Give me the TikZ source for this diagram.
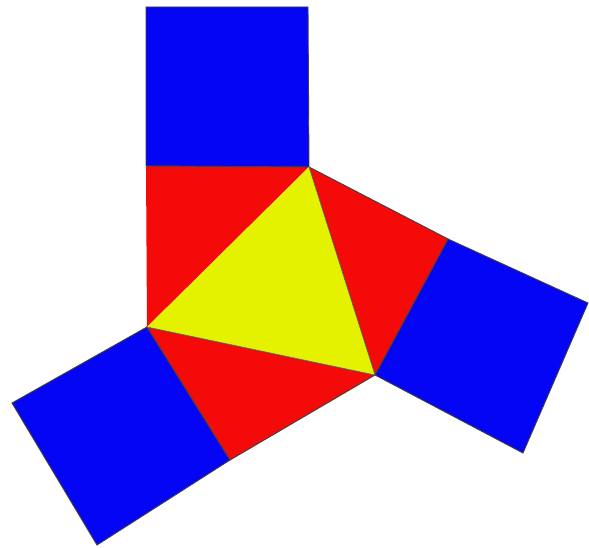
\documentclass[tikz,border=0pt]{standalone}
\definecolor{sqblue}{RGB}{5,5,245}
\definecolor{trired}{RGB}{245,10,10}
\definecolor{triyel}{RGB}{228,242,0}
\begin{document}
\begin{tikzpicture}[x=1pt,y=-1pt,
  piece/.style={draw=black!75,line width=0.9pt,line join=miter}]
\useasboundingbox (0,0) rectangle (589,548);
\fill[white] (0,0) rectangle (589,548);
\coordinate (A) at (309,167);
\coordinate (B) at (147,327);
\coordinate (C) at (375,375);
\coordinate (T1) at (146,7);
\coordinate (T2) at (308,7);
\coordinate (T3) at (146,166);
\coordinate (R1) at (448,239);
\coordinate (R2) at (588,303);
\coordinate (R3) at (523,453);
\coordinate (L1) at (230,460);
\coordinate (L2) at (97,545);
\coordinate (L3) at (12,403);
% squares
\filldraw[piece,fill=sqblue] (T3) -- (T1) -- (T2) -- (A) -- cycle;
\filldraw[piece,fill=sqblue] (C) -- (R1) -- (R2) -- (R3) -- cycle;
\filldraw[piece,fill=sqblue] (B) -- (L1) -- (L2) -- (L3) -- cycle;
% red triangles
\fill[trired] (A) -- (T3) -- (B) -- cycle;
\draw[piece] (T3) -- (A);
\filldraw[piece,fill=trired] (A) -- (R1) -- (C) -- cycle;
\filldraw[piece,fill=trired] (B) -- (C) -- (L1) -- cycle;
% yellow triangle
\fill[triyel] (A) -- (B) -- (C) -- cycle;
\draw[draw=black!60,line width=0.6pt] (A) -- (C) -- (B);
\end{tikzpicture}
\end{document}
